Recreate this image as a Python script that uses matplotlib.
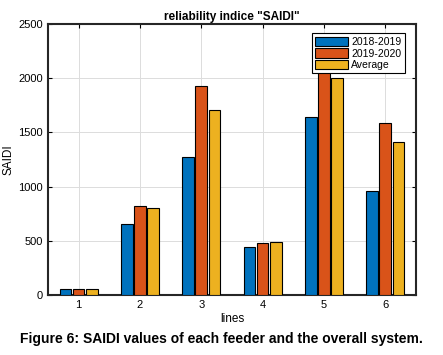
import matplotlib
matplotlib.use("Agg")
import matplotlib.pyplot as plt
import numpy as np

# Data
lines = [1, 2, 3, 4, 5, 6]
saidi_2018_2019 = [55, 652, 1276, 440, 1639, 962]
saidi_2019_2020 = [54, 818, 1925, 477, 2250, 1590]
saidi_average = [60, 805, 1709, 492, 2000, 1409]
series_labels = ["2018-2019", "2019-2020", "Average"]
colors = ["#0072BD", "#D95319", "#EDB120"]

plt.rcParams["font.family"] = ["Liberation Sans", "DejaVu Sans"]

fig = plt.figure(figsize=(4.43, 3.55), dpi=100)
ax = fig.add_axes([0.108, 0.169, 0.831, 0.763])

x = np.array(lines)
w = 0.19
off = 0.215
for k, (vals, lbl, c) in enumerate(
    zip([saidi_2018_2019, saidi_2019_2020, saidi_average], series_labels, colors)
):
    ax.bar(x + (k - 1) * off, vals, w, color=c, edgecolor="black",
           linewidth=0.8, label=lbl, zorder=3)

ax.set_xlim(0.5, 6.5)
ax.set_ylim(0, 2500)
ax.set_xticks(lines)
ax.set_yticks(np.arange(0, 2501, 500))
ax.grid(True, color="#dcdcdc", linewidth=0.7, zorder=0)
ax.tick_params(direction="in", top=True, right=True, labelsize=8,
               length=3, width=0.8)
for s in ax.spines.values():
    s.set_linewidth(1.5)
    s.set_color("#262626")

ax.set_title('reliability indice "SAIDI"', fontsize=8.5, fontweight="bold", pad=3)
ax.set_xlabel("lines", fontsize=8.5, labelpad=2)
ax.set_ylabel("SAIDI", fontsize=8.5, labelpad=3)

leg = ax.legend(loc="upper right", fontsize=7.5, handlelength=3.2,
                handleheight=1.0, borderpad=0.3, labelspacing=0.15,
                handletextpad=0.3, fancybox=False, framealpha=1,
                edgecolor="black", bbox_to_anchor=(0.983, 0.985))
leg.get_frame().set_linewidth(0.8)
leg.set_zorder(10)

fig.text(0.5, 0.045, "Figure 6: SAIDI values of each feeder and the overall system.",
         ha="center", va="center", fontsize=10, fontweight="bold")

fig.savefig("out.png", dpi=100)
